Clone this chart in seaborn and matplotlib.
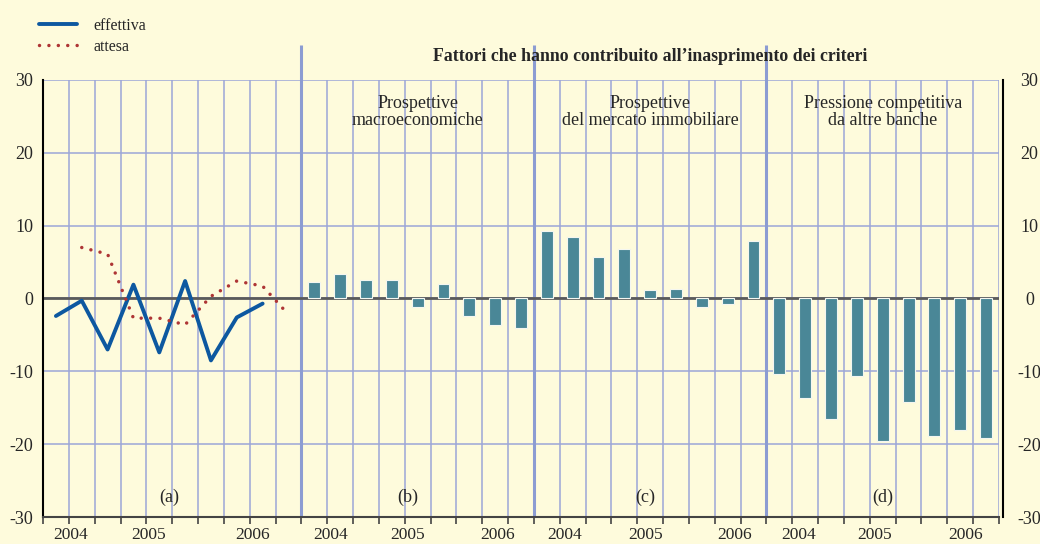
import matplotlib
matplotlib.use("Agg")
import matplotlib.pyplot as plt
import seaborn as sns
import numpy as np

# panel (a): credit standards, actual vs expected
effettiva = [-2.4, -0.3, -7.0, 1.9, -7.4, 2.4, -8.5, -2.6, -0.7]
attesa = [7.0, 6.1, -2.7, -2.7, -3.6, 0.3, 2.4, 1.7, -2.2]

# factors contributing to tightening
macro = [2.2, 3.4, 2.6, 2.6, -1.2, 2.0, -2.4, -3.6, -4.0]
immobiliare = [9.2, 8.4, 5.7, 6.8, 1.1, 1.3, -1.1, -0.8, 7.9]
concorrenza = [-10.3, -13.6, -16.6, -10.7, -19.5, -14.2, -18.9, -18.0, -19.2]

years = ["2004", "2005", "2006"]
panel_letters = ["(a)", "(b)", "(c)", "(d)"]
panel_titles = ["Prospettive\nmacroeconomiche",
                "Prospettive\ndel mercato immobiliare",
                "Pressione competitiva\nda altre banche"]
header = "Fattori che hanno contribuito all\u2019inasprimento dei criteri"

BG = "#FEFBDC"
GRID = "#9BA6D8"
BAR = "#4A8797"
BLUE = "#0D58A0"
RED = "#AE3535"

sns.set_theme(style="white")
plt.rcParams["font.family"] = ["Liberation Serif", "DejaVu Serif"]
plt.rcParams["axes.unicode_minus"] = False

fig = plt.figure(figsize=(10.4, 5.44), dpi=100, facecolor=BG)
ax = fig.add_axes([43 / 1040, 1 - 517 / 544, 956 / 1040, 437 / 544])
ax.set_facecolor(BG)

ax.set_xlim(0, 37)
ax.set_ylim(-30, 30)
ax.set_xticks(range(38))
ax.set_xticklabels([])
ax.set_yticks(range(-30, 31, 10))
ax.grid(True, color=GRID, lw=1.1)
ax.set_axisbelow(True)
ax.tick_params(axis="x", bottom=True, length=5, width=1.2, color="#444444", direction="out")
ax.tick_params(axis="y", length=0, pad=7, labelsize=13)

ax.spines["top"].set_visible(False)
ax.spines["left"].set_color("black")
ax.spines["left"].set_linewidth(1.5)
ax.spines["right"].set_color("black")
ax.spines["right"].set_linewidth(1.5)
ax.spines["right"].set_position(("outward", 3))
ax.spines["bottom"].set_color("#444444")
ax.spines["bottom"].set_linewidth(1.5)

# right hand labels
ax2 = ax.twinx()
ax2.set_ylim(-30, 30)
ax2.set_yticks(range(-30, 31, 10))
ax2.tick_params(axis="y", length=0, pad=22, labelsize=13)
for lbl in ax2.get_yticklabels():
    lbl.set_horizontalalignment("center")
for s in ax2.spines.values():
    s.set_visible(False)
ax2.grid(False)

# zero line
ax.axhline(0, color="#5A5A5A", lw=2, zorder=1.5)

# panel separators
ax.vlines([10, 19, 28], -30, 34.8, color="#8C9CD2", lw=2.2, clip_on=False, zorder=1)

# panel (a) lines
x_eff = np.arange(len(effettiva)) + 0.5
x_att = np.arange(len(attesa)) + 1.5
sns.lineplot(x=x_eff, y=effettiva, ax=ax, color=BLUE, lw=2.8, sort=False,
             label="effettiva", zorder=3)
sns.lineplot(x=x_att, y=attesa, ax=ax, color=RED, lw=2.5, sort=False,
             linestyle=(0, (0.01, 2.7)), dash_capstyle="round",
             label="attesa", zorder=3)

# bars
for start, vals in zip([10, 19, 28], [macro, immobiliare, concorrenza]):
    xb = np.arange(len(vals)) + start + 0.5
    sns.barplot(x=xb, y=vals, ax=ax, native_scale=True, width=0.46, color=BAR,
                saturation=1, edgecolor="#F4F6F0", linewidth=0.8,
                errorbar=None, zorder=2)

ax.set_xlim(0, 37)
ax.set_ylim(-30, 30)
ax.set_xlabel("")
ax.set_ylabel("")

# legend
handles, labels = ax.get_legend_handles_labels()
ax.get_legend().remove()
fig.legend(handles, labels, loc="upper left", bbox_to_anchor=(39 / 1040, 1 - 18 / 544),
           frameon=False, fontsize=11.5, handlelength=2.4, handletextpad=1.0,
           labelspacing=0.3, borderpad=0, borderaxespad=0)

# texts
ax.text(23.5, 33.2, header, ha="center", va="center", fontsize=12.8,
        fontweight="bold", clip_on=False)
for cx, t in zip([14.5, 23.5, 32.5], panel_titles):
    ax.text(cx, 28.0, t, ha="center", va="top", fontsize=13, linespacing=1.0)
for cx, t in zip([4.88, 14.1, 23.3, 32.5], panel_letters):
    ax.text(cx, -27.3, t, ha="center", va="center", fontsize=13)

year_pos = [[1.08, 4.07, 8.1], [11.12, 14.1, 17.6], [20.19, 23.32, 26.77], [29.25, 32.2, 35.7]]
for pos in year_pos:
    for px, yr in zip(pos, years):
        ax.text(px, -33.6, yr, ha="center", va="bottom", fontsize=12.5, clip_on=False)

fig.savefig("out.png", dpi=100, facecolor=BG)
